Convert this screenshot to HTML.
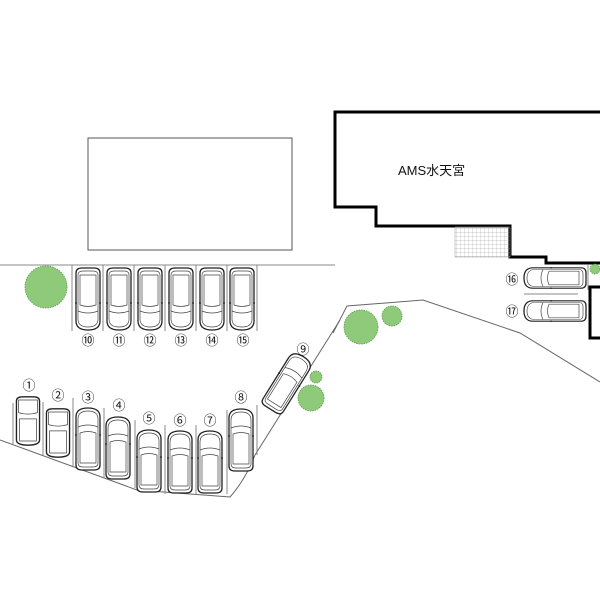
<!DOCTYPE html>
<html><head><meta charset="utf-8"><style>
html,body{margin:0;padding:0;background:#fff}
svg{display:block}
text{font-family:"Liberation Sans","Noto Sans CJK JP",sans-serif}
</style></head><body>
<svg width="600" height="600" viewBox="0 0 600 600" xmlns="http://www.w3.org/2000/svg">
<defs>
<pattern id="grid" width="4" height="4" patternUnits="userSpaceOnUse">
<path d="M4 0H0V4" fill="none" stroke="#999" stroke-width="0.5"/>
</pattern>
<g id="car">
<path d="M-12,-26 Q-12,-31 -6,-31 L6,-31 Q12,-31 12,-26 L12,22 Q12,31 0,31 Q-12,31 -12,22 Z" fill="#fff" stroke="#222" stroke-width="1.3"/>
<path d="M-10,-24 Q-10,-28 -5,-28 L5,-28 Q10,-28 10,-24 L10,20 Q10,28 0,28 Q-10,28 -10,20 Z" fill="none" stroke="#444" stroke-width="0.7"/>
<path d="M-8,-24 L8,-24 L8,6 Q0,9 -8,6 Z" fill="none" stroke="#444" stroke-width="0.7"/>
<path d="M-10,12 Q0,16 10,12" fill="none" stroke="#444" stroke-width="0.7"/>
<line x1="-13" y1="4" x2="-11" y2="4" stroke="#222"/><line x1="11" y1="4" x2="13" y2="4" stroke="#222"/>
</g>
<g id="scar">
<path d="M-11,-19 Q-11,-23 -5,-23 L5,-23 Q11,-23 11,-19 L11,18 Q11,23 0,23 Q-11,23 -11,18 Z" fill="#fff" stroke="#222" stroke-width="1.3"/>
<path d="M-9,-20 L9,-20 L9,-8 Q0,-5 -9,-8 Z" fill="none" stroke="#444" stroke-width="0.7"/>
<path d="M-8,-2 L8,-2 L8,19 L-8,19 Z" fill="none" stroke="#444" stroke-width="0.7"/>
</g>
</defs>

<rect x="88" y="138" width="204" height="112" fill="none" stroke="#555" stroke-width="1"/>
<line x1="0" y1="265" x2="335" y2="265" stroke="#888" stroke-width="1"/>

<path d="M600,112 L335,112 L335,207 L376,207 L376,226 L510,226 L510,257 L546,257 L546,263 L600,263" fill="none" stroke="#000" stroke-width="3"/>
<rect x="455" y="227" width="55" height="30" fill="url(#grid)" stroke="#999" stroke-width="0.5"/>
<path d="M600,287 L590,287 L590,338 L600,338" fill="none" stroke="#000" stroke-width="3"/>
<text x="398" y="175" font-size="13" fill="#111">AMS水天宮</text>

<path d="M0,440 L137,490 L230,497 Q245,480 255,455 L340,320" fill="none" stroke="#666" stroke-width="1"/>
<path d="M333,333 L347,306 L423,300 L520,333 L600,382" fill="none" stroke="#666" stroke-width="1"/>

<g stroke="#888" stroke-width="1">
<line x1="72" y1="265" x2="72" y2="331"/><line x1="103" y1="265" x2="103" y2="331"/>
<line x1="134" y1="265" x2="134" y2="331"/><line x1="165" y1="265" x2="165" y2="331"/>
<line x1="196" y1="265" x2="196" y2="331"/><line x1="227" y1="265" x2="227" y2="331"/>
<line x1="257" y1="265" x2="257" y2="331"/>
<line x1="13" y1="403" x2="13" y2="444"/><line x1="43" y1="402" x2="43" y2="455"/>
<line x1="73" y1="398" x2="73" y2="466"/><line x1="104" y1="408" x2="104" y2="478"/>
<line x1="135" y1="420" x2="135" y2="488"/><line x1="165" y1="425" x2="165" y2="494"/>
<line x1="196" y1="425" x2="196" y2="494"/><line x1="227" y1="410" x2="227" y2="494"/>
<line x1="257" y1="405" x2="257" y2="455"/>
</g>

<use href="#car" transform="translate(88,299)"/>
<use href="#car" transform="translate(119,299)"/>
<use href="#car" transform="translate(150,299)"/>
<use href="#car" transform="translate(181,299)"/>
<use href="#car" transform="translate(212,299)"/>
<use href="#car" transform="translate(242,299)"/>
<use href="#scar" transform="translate(28,421) scale(1.05)"/>
<use href="#scar" transform="translate(58,433) scale(1.05)"/>
<use href="#car" transform="translate(88,439) rotate(180)"/>
<use href="#car" transform="translate(118,448) rotate(180)"/>
<use href="#car" transform="translate(149,461) rotate(180)"/>
<use href="#car" transform="translate(180,462) rotate(180)"/>
<use href="#car" transform="translate(210,462) rotate(180)"/>
<use href="#car" transform="translate(241,440) rotate(180)"/>
<use href="#car" transform="translate(287,383) rotate(-148)"/>
<use href="#car" transform="translate(555,278) rotate(90) scale(0.85,1)"/>
<use href="#car" transform="translate(555,311) rotate(90) scale(0.85,1)"/>
<line x1="524" y1="294" x2="578" y2="294" stroke="#888"/>
<line x1="588" y1="265" x2="588" y2="290" stroke="#888"/>

<g fill="#8fca7a" stroke="#5a9a4e" stroke-width="0.8" stroke-dasharray="1.5 1">
<circle cx="46" cy="287" r="21"/>
<circle cx="361" cy="327" r="17"/>
<circle cx="392" cy="316" r="10"/>
<circle cx="316" cy="377" r="6"/>
<circle cx="311" cy="398" r="13"/>
<circle cx="595" cy="269" r="5"/>
</g>

<g font-size="13" fill="#111" text-anchor="middle">
<text x="88" y="345">⑩</text><text x="119" y="345">⑪</text><text x="150" y="345">⑫</text>
<text x="181" y="345">⑬</text><text x="212" y="345">⑭</text><text x="243" y="345">⑮</text>
<text x="29" y="390">①</text><text x="58" y="400">②</text><text x="88" y="402">③</text>
<text x="119" y="410">④</text><text x="149" y="423">⑤</text><text x="180" y="425">⑥</text>
<text x="210" y="425">⑦</text><text x="241" y="402">⑧</text><text x="303" y="354">⑨</text>
<text x="512" y="284">⑯</text><text x="512" y="316">⑰</text>
</g>
</svg>
</body></html>
